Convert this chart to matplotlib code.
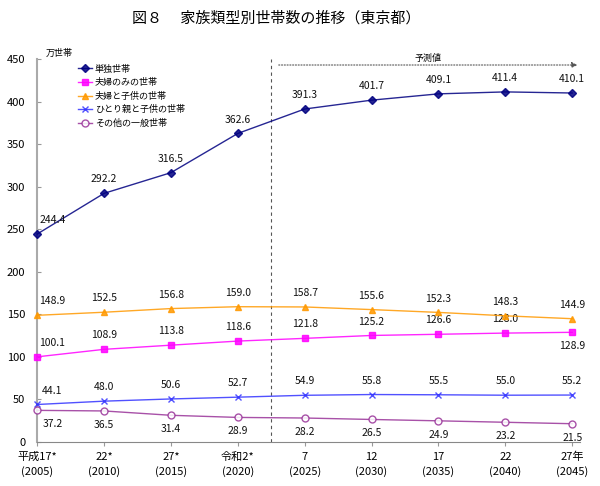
import matplotlib
matplotlib.use("Agg")
import matplotlib.pyplot as plt
import numpy as np

plt.rcParams['font.family'] = ['Noto Sans CJK JP', 'DejaVu Sans']

# データ（万世帯）
years = ["平成17*\n(2005)", "22*\n(2010)", "27*\n(2015)", "令和2*\n(2020)",
         "7\n(2025)", "12\n(2030)", "17\n(2035)", "22\n(2040)", "27年\n(2045)"]
tandoku = [244.4, 292.2, 316.5, 362.6, 391.3, 401.7, 409.1, 411.4, 410.1]
fufu_nomi = [100.1, 108.9, 113.8, 118.6, 121.8, 125.2, 126.6, 128.0, 128.9]
fufu_kodomo = [148.9, 152.5, 156.8, 159.0, 158.7, 155.6, 152.3, 148.3, 144.9]
hitorioya = [44.1, 48.0, 50.6, 52.7, 54.9, 55.8, 55.5, 55.0, 55.2]
sonota = [37.2, 36.5, 31.4, 28.9, 28.2, 26.5, 24.9, 23.2, 21.5]

x = np.arange(len(years))

fig = plt.figure(figsize=(6, 4.86), dpi=100)
ax = fig.add_axes([0.062, 0.0905, 0.905, 0.788])

# 系列ごとの設定: (データ, 名前, 色, マーカー, 塗り, ラベル位置)
series = [
    (tandoku, "単独世帯", "#000080", "D", True, "up"),
    (fufu_nomi, "夫婦のみの世帯", "#FF00FF", "s", True, "up_last_down"),
    (fufu_kodomo, "夫婦と子供の世帯", "#FF9900", "^", True, "up"),
    (hitorioya, "ひとり親と子供の世帯", "#3333FF", "x", True, "up"),
    (sonota, "その他の一般世帯", "#993399", "o", False, "down"),
]

for vals, name, col, mk, filled, pos in series:
    ax.plot(x, vals, color=col, lw=1.0, alpha=0.85, marker=mk,
            markersize=5 if mk != "D" else 4,
            markerfacecolor=col if filled else "white",
            markeredgecolor=col, markeredgewidth=1.0, label=name,
            clip_on=False, zorder=3)
    for i, v in enumerate(vals):
        down = pos == "down" or (pos == "up_last_down" and i == len(vals) - 1)
        dx = 11 if i == 0 else 0
        dy = -10 if down else 10
        ax.annotate(f"{v:.1f}", (x[i], v), xytext=(dx, dy),
                    textcoords="offset points", ha="center", va="center",
                    fontsize=7.5, color="#111111")

ax.set_xlim(0, 8.12)
ax.set_ylim(0, 450)
ax.set_yticks(np.arange(0, 451, 50))
ax.set_xticks(x)
ax.set_xticklabels(years, fontsize=8, linespacing=1.5)
ax.tick_params(axis="y", labelsize=8, length=3, color="#999999", direction="in", pad=8.5)
ax.tick_params(axis="x", length=3, color="#999999", direction="out", pad=4)

for s in ["top", "right"]:
    ax.spines[s].set_visible(False)
ax.spines["left"].set_color("#AAAAAA")
ax.spines["left"].set_linewidth(1.5)
ax.spines["bottom"].set_color("#888888")

# 予測値の区切り線と矢印
ax.axvline(3.5, color="#555555", lw=0.8, ls=(0, (3, 3)), zorder=1)
ax.annotate("", xy=(8.12, 443), xytext=(3.57, 443),
            arrowprops=dict(arrowstyle="-|>", color="#555555", lw=0.8,
                            linestyle=(0, (1, 1.5)), mutation_scale=8),
            annotation_clip=False)
ax.text(5.85, 445, "予測値", fontsize=6.5, ha="center", va="bottom")

ax.text(0.12, 457, "万世帯", fontsize=6.5, ha="left", va="center")

ax.legend(loc="upper left", bbox_to_anchor=(0.068, 0.995), frameon=False,
          fontsize=6.5, handlelength=1.6, handletextpad=0.3,
          labelspacing=0.5, borderaxespad=0.0)

fig.text(0.46, 0.963, "図８　 家族類型別世帯数の推移（東京都）",
         fontsize=10.8, ha="center", va="center")

fig.savefig("out.png", dpi=100)
